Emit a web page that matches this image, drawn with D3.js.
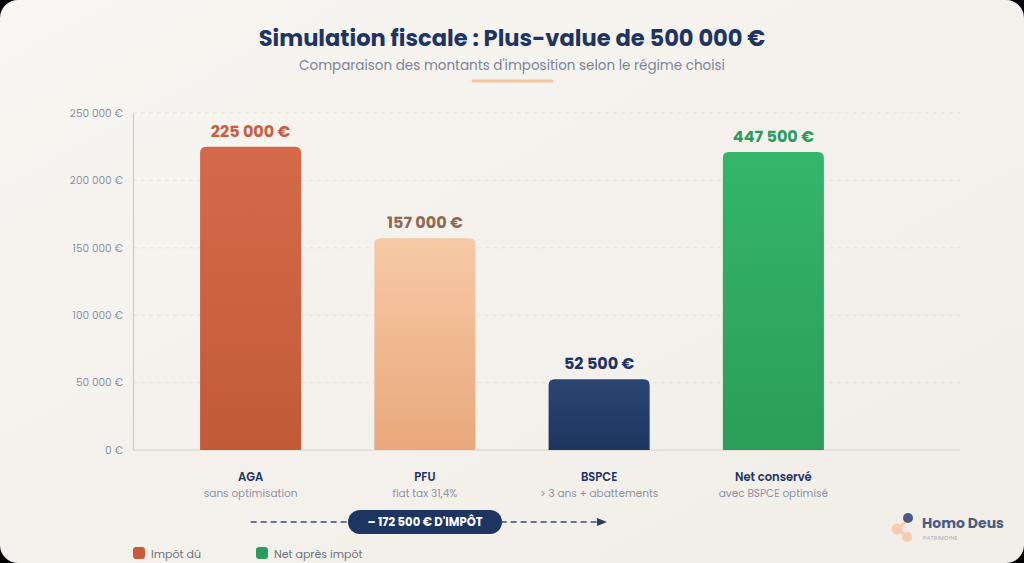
<!DOCTYPE html>
<html>
<head>
<meta charset="utf-8">
<script src="https://cdn.jsdelivr.net/npm/d3@7"></script>
<style>
  html, body { margin: 0; padding: 0; background: #000; }
  svg { display: block; }
</style>
</head>
<body>
<svg id="chart" width="1024" height="563"></svg>
<script>
// ---- Data ----
const categories = ["AGA", "PFU", "BSPCE", "Net conservé"];
const subLabels = ["sans optimisation", "flat tax 31,4%", "> 3 ans + abattements", "avec BSPCE optimisé"];
const values = [225000, 157000, 52500, 447500];
// height at which each bar is drawn on the axis (net bar is shown compressed in the reference)
const drawnValues = [225000, 157000, 52500, 221000];
const yTicks = [0, 50000, 100000, 150000, 200000, 250000];
const savingLabel = "– 172 500 € D'IMPÔT";
const legendLabels = ["Impôt dû", "Net après impôt"];

const FONT = "Poppins, 'Open Sans', sans-serif";
const fmt = v => d3.format(",")(v).replace(/,/g, " ") + " €";

const svg = d3.select("#chart");
const W = 1024, H = 563;

const defs = svg.append("defs");
const bg = defs.append("linearGradient").attr("id", "bg").attr("x1", 0).attr("y1", 0).attr("x2", 1).attr("y2", 1);
bg.append("stop").attr("offset", 0).attr("stop-color", "#f8f6f2");
bg.append("stop").attr("offset", 1).attr("stop-color", "#f1ede7");

const grads = [
  ["g0", "#d56a4a", "#c35a37"],
  ["g1", "#f7c9a6", "#eaa87c"],
  ["g2", "#2b4571", "#1e355f"],
  ["g3", "#35b56b", "#2a9e5a"]
];
grads.forEach(([id, a, b]) => {
  const g = defs.append("linearGradient").attr("id", id).attr("x1", 0).attr("y1", 0).attr("x2", 0).attr("y2", 1);
  g.append("stop").attr("offset", 0).attr("stop-color", a);
  g.append("stop").attr("offset", 1).attr("stop-color", b);
});
const labelColors = ["#c8603f", "#8c6b51", "#1e3461", "#2a9d5c"];

// Card
svg.append("rect").attr("x", 0).attr("y", 0).attr("width", W).attr("height", H)
  .attr("rx", 18).attr("fill", "url(#bg)");

// Title
svg.append("text").attr("x", 512).attr("y", 46).attr("text-anchor", "middle")
  .attr("font-family", FONT).attr("font-weight", 700).attr("font-size", 22.6)
  .attr("fill", "#1e3461").text("Simulation fiscale : Plus-value de 500 000 €");
svg.append("text").attr("x", 512).attr("y", 70).attr("text-anchor", "middle")
  .attr("font-family", FONT).attr("font-size", 13.5)
  .attr("fill", "#7b8597").text("Comparaison des montants d'imposition selon le régime choisi");
svg.append("line").attr("x1", 473).attr("x2", 552).attr("y1", 81).attr("y2", 81)
  .attr("stroke", "#f6c6a2").attr("stroke-width", 3).attr("stroke-linecap", "round");

// Scales
const y = d3.scaleLinear().domain([0, 250000]).range([450, 113]);
const x = d3.scaleBand().domain(categories).range([133, 891]).paddingInner(0.42).paddingOuter(0.385);

// Grid
svg.append("g").selectAll("line").data(yTicks.filter(t => t > 0)).join("line")
  .attr("x1", 133).attr("x2", 960).attr("y1", d => y(d)).attr("y2", d => y(d))
  .attr("stroke", "#e6e1d9").attr("stroke-dasharray", "4,4").attr("stroke-width", 1);

// Y axis
const yAxis = svg.append("g").attr("transform", "translate(133,0)")
  .call(d3.axisLeft(y).tickValues(yTicks).tickSize(0).tickPadding(10).tickFormat(fmt));
yAxis.select(".domain").attr("stroke", "#cfc9c0").attr("stroke-width", 1.2);
yAxis.selectAll("text").attr("font-family", FONT).attr("font-size", 10.5).attr("fill", "#8a93a5");

// X axis baseline
svg.append("line").attr("x1", 133).attr("x2", 960).attr("y1", y(0)).attr("y2", y(0))
  .attr("stroke", "#d8d2c9").attr("stroke-width", 1);

// Bars
const bars = svg.append("g");
categories.forEach((c, i) => {
  const x0 = x(c), bw = x.bandwidth();
  const top = y(drawnValues[i]), bot = y(0), r = 6;
  const path = `M${x0},${bot} L${x0},${top + r} Q${x0},${top} ${x0 + r},${top} L${x0 + bw - r},${top} Q${x0 + bw},${top} ${x0 + bw},${top + r} L${x0 + bw},${bot} Z`;
  bars.append("path").attr("d", path).attr("fill", `url(#${grads[i][0]})`);
  bars.append("text").attr("x", x0 + bw / 2).attr("y", top - 10).attr("text-anchor", "middle")
    .attr("font-family", FONT).attr("font-weight", 700).attr("font-size", 16)
    .attr("fill", labelColors[i]).text(fmt(values[i]));
  svg.append("text").attr("x", x0 + bw / 2).attr("y", 481).attr("text-anchor", "middle")
    .attr("font-family", FONT).attr("font-weight", 600).attr("font-size", 11.5)
    .attr("fill", "#1e3461").text(c);
  svg.append("text").attr("x", x0 + bw / 2).attr("y", 497).attr("text-anchor", "middle")
    .attr("font-family", FONT).attr("font-size", 10.5)
    .attr("fill", "#8a93a5").text(subLabels[i]);
});

// Savings arrow
const ay = 522;
svg.append("line").attr("x1", x(categories[0]) + x.bandwidth() / 2).attr("x2", 598).attr("y1", ay).attr("y2", ay)
  .attr("stroke", "#3a4c6e").attr("stroke-width", 1.6).attr("stroke-dasharray", "6,4");
svg.append("path").attr("d", `M597,${ay - 4} L607,${ay} L597,${ay + 4} Z`).attr("fill", "#2b3d60");
svg.append("rect").attr("x", 348).attr("y", 510).attr("width", 154).attr("height", 24).attr("rx", 12)
  .attr("fill", "#1e3461");
svg.append("text").attr("x", 425).attr("y", 526).attr("text-anchor", "middle")
  .attr("font-family", FONT).attr("font-weight", 700).attr("font-size", 11.6)
  .attr("fill", "#ffffff").text(savingLabel);

// Legend
const legColors = ["#c85b3a", "#2a9d5c"];
const legX = [133, 256];
legendLabels.forEach((l, i) => {
  svg.append("rect").attr("x", legX[i]).attr("y", 547).attr("width", 12).attr("height", 12).attr("rx", 3)
    .attr("fill", legColors[i]);
  svg.append("text").attr("x", legX[i] + 18).attr("y", 557.5)
    .attr("font-family", FONT).attr("font-size", 11).attr("fill", "#6b7280").text(l);
});

// Logo
const logo = svg.append("g");
logo.append("line").attr("x1", 898).attr("y1", 529).attr("x2", 907).attr("y2", 520)
  .attr("stroke", "#f4cdb0").attr("stroke-width", 3);
logo.append("line").attr("x1", 898).attr("y1", 529).attr("x2", 907).attr("y2", 537)
  .attr("stroke", "#f4cdb0").attr("stroke-width", 3);
logo.append("circle").attr("cx", 897).attr("cy", 529).attr("r", 5.5).attr("fill", "#f4cdb0");
logo.append("circle").attr("cx", 907).attr("cy", 537).attr("r", 5).attr("fill", "#f4cdb0");
logo.append("circle").attr("cx", 908).attr("cy", 518).attr("r", 5).attr("fill", "#4a5b82");
logo.append("text").attr("x", 922).attr("y", 528).attr("font-family", FONT).attr("font-weight", 700)
  .attr("font-size", 14).attr("fill", "#4a5b82").text("Homo Deus");
logo.append("text").attr("x", 923).attr("y", 539.5).attr("font-family", FONT)
  .attr("font-size", 5.5).attr("fill", "#a8aebb").attr("letter-spacing", 0.3).text("PATRIMOINE");
</script>
</body>
</html>
